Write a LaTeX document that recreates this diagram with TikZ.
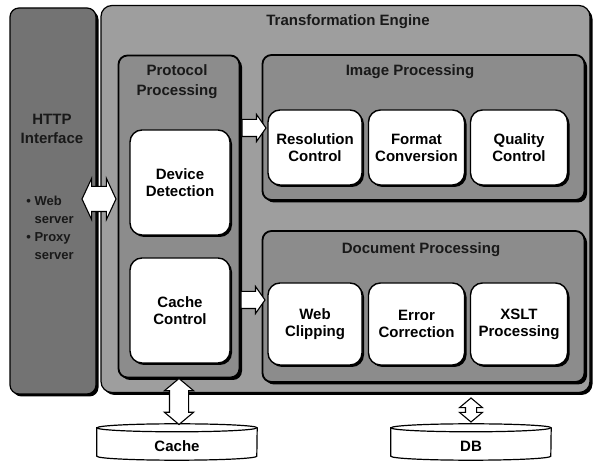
\documentclass[tikz,border=0pt]{standalone}
\usepackage{fontspec}
\setmainfont{Liberation Sans}
\usetikzlibrary{shapes.arrows,shadows,backgrounds}

\tikzset{
  panel/.style={draw=black, line width=1.8pt, rounded corners=9pt, fill=black!45,
    inner sep=0pt, drop shadow={shadow xshift=2.5pt, shadow yshift=-2.5pt, fill=black, opacity=1}},
  unit/.style={draw=black, line width=1.4pt, rounded corners=12pt, fill=white,
    inner sep=0pt, align=center, font=\fontsize{15}{17}\selectfont\bfseries,
    drop shadow={shadow xshift=2pt, shadow yshift=-2pt, fill=black, opacity=1}},
  heading/.style={font=\fontsize{15}{19}\selectfont\bfseries, text=black!90, align=center},
  fat/.style={draw=black, line width=1.1pt, fill=white, inner xsep=0pt},
  store/.style={minimum width=160pt, minimum height=28pt, inner sep=0pt,
    font=\fontsize{15}{17}\selectfont\bfseries},
}

\begin{document}
\begin{tikzpicture}[x=1pt,y=1pt]
    \useasboundingbox (0,0) rectangle (595,463);

    % outer frames
    \node[panel, line width=1.2pt, fill=black!55, minimum width=86pt, minimum height=386pt] (http) at (53,262) {};
    \node[panel, line width=1.2pt, fill=black!38, rounded corners=11pt, minimum width=489pt, minimum height=387pt] (engine) at (345.5,264) {};

    % inner frames
    \node[panel, minimum width=121pt, minimum height=322pt] (proto) at (179,246.5) {};
    \node[panel, minimum width=322pt, minimum height=145pt] (img) at (423.5,335.5) {};
    \node[panel, minimum width=322pt, minimum height=151pt] (doc) at (423.5,156.5) {};

    % headings
    \node[heading] (httptitle) at (52,334) {HTTP\\Interface};
    \node[heading, font=\fontsize{13}{18}\selectfont\bfseries, align=left] (httplist) at (50,235)
        {\textbullet~Web\\\hphantom{\textbullet~}server\\\textbullet~Proxy\\\hphantom{\textbullet~}server};
    \node[heading] (enginetitle) at (348,441) {Transformation Engine};
    \node[heading, font=\fontsize{15}{20}\selectfont\bfseries] (prototitle) at (177,381.5) {Protocol\\Processing};
    \node[heading] (imgtitle) at (410,391) {Image Processing};
    \node[heading] (doctitle) at (421,213) {Document Processing};

    % processing units
    \node[unit, minimum width=100pt, minimum height=105pt] (detect) at (180,280.5) {Device\\Detection};
    \node[unit, minimum width=100pt, minimum height=105pt] (cachectl) at (180,152.5) {Cache\\Control};

    \node[unit, minimum width=94pt, minimum height=75pt] (res) at (315,315.5) {Resolution\\Control};
    \node[unit, minimum width=96pt, minimum height=75pt] (fmt) at (416.5,315.5) {Format\\Conversion};
    \node[unit, minimum width=97pt, minimum height=75pt] (qual) at (519,315.5) {Quality\\Control};

    \node[unit, minimum width=94pt, minimum height=82pt] (clip) at (315,139) {Web\\Clipping};
    \node[unit, minimum width=96pt, minimum height=82pt] (err) at (416.5,139) {Error\\Correction};
    \node[unit, minimum width=97pt, minimum height=82pt] (xslt) at (519,139) {XSLT\\Processing};

    % stores
    \node[store] (cache) at (177,17) {Cache};
    \node[store] (db) at (471,17) {DB};
    \begin{scope}[on background layer]
        \foreach \s in {cache,db} {
            \draw[line width=1.2pt, fill=white] ([yshift=4pt]\s.north west) -- ([yshift=4pt]\s.south west)
                arc[start angle=180, end angle=360, x radius=80pt, y radius=4pt]
                -- ([yshift=4pt]\s.north east)
                arc[start angle=0, end angle=180, x radius=80pt, y radius=4pt] -- cycle;
            \draw[line width=1.2pt] ([yshift=4pt]\s.north west)
                arc[start angle=180, end angle=360, x radius=80pt, y radius=4pt];
        }
    \end{scope}

    % fat arrows
    \node[fat, double arrow, double arrow head extend=8pt, double arrow tip angle=130,
        inner ysep=12pt, minimum height=34pt, minimum width=40pt] (httplink) at (99,264) {};
    \node[fat, single arrow, single arrow head extend=5pt, single arrow tip angle=110,
        inner ysep=8pt, minimum height=24pt, minimum width=26pt] (imglink) at (251,335) {};
    \node[fat, single arrow, single arrow head extend=5pt, single arrow tip angle=110,
        inner ysep=8pt, minimum height=24pt, minimum width=26pt] (doclink) at (250,163) {};
    \node[fat, double arrow, rotate=90, double arrow head extend=5pt, double arrow tip angle=100,
        inner ysep=9pt, minimum height=46pt, minimum width=28pt] (cachelink) at (179,61.5) {};
    \node[fat, double arrow, rotate=90, double arrow head extend=6pt, double arrow tip angle=100,
        inner ysep=5pt, minimum height=24pt, minimum width=22pt] (dblink) at (471,53) {};

\end{tikzpicture}
\end{document}
